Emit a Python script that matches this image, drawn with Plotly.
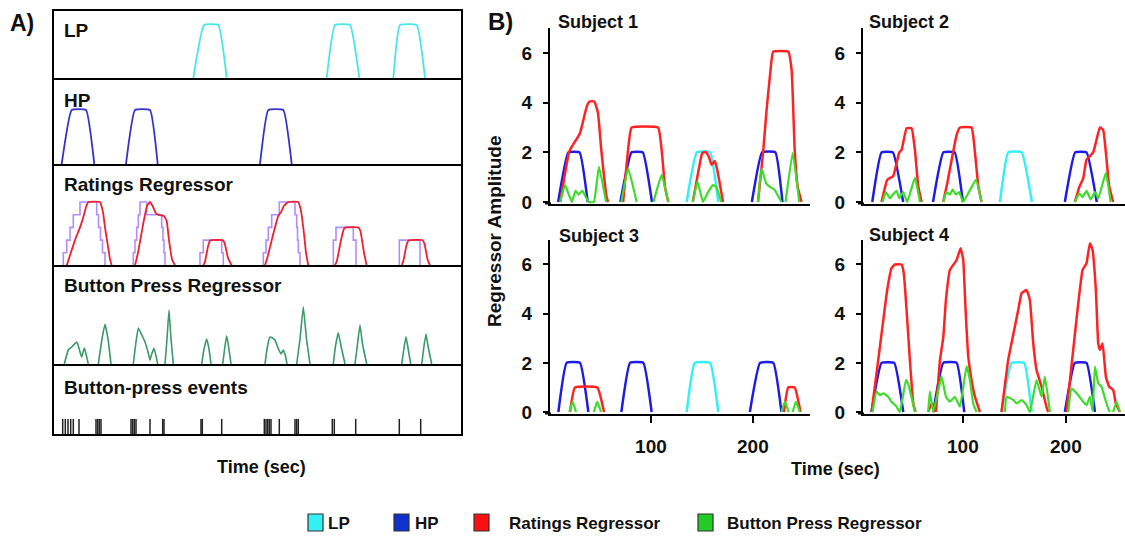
import plotly.graph_objects as go

W, H = 1125, 537
def fx(p): return p / W
def fy(p): return 1 - p / H

# ---------------- Panel A data (time in arbitrary sec units) ----------------
a_lp_t = [140.3, 151, 165.3, 173.7, None, 273.7, 282, 297, 306.3, None, 340.3, 347, 363.7, 372]
a_lp_v = [0, 1, 1, 0, None, 0, 1, 1, 0, None, 0, 1, 1, 0]
a_hp_t = [8.7, 18.7, 33, 41.3, None, 73, 82, 97, 104.7, None, 207, 215.3, 230.3, 238.7]
a_hp_v = [0, 1, 1, 0, None, 0, 1, 1, 0, None, 0, 1, 1, 0]

a_raw_t = [10.3, 10.3, 13.7, 17, 20.3, 27, 43.7, 45.5, 47.5, 49.5, 52, None,
           80.3, 80.3, 82, 83.7, 85.3, 87, 93.7, 108.7, 110, 111, 112, None,
           147, 147, 150.3, 168.7, 170.3, None,
           210.3, 210.3, 213, 215.3, 218.7, 226.3, 242, 243.7, 244.5, 245.3, 247, None,
           280.3, 280.3, 283, 300.3, 303, None,
           346.3, 346.3, 367]
a_raw_v = [0, 1, 2, 3, 4, 5, 4, 3, 2, 1, 0, None,
           0, 1, 2, 3, 4, 5, 4, 3, 2, 1, 0, None,
           0, 1, 2, 1, 0, None,
           0, 1, 2, 3, 4, 5, 4, 3, 2, 1, 0, None,
           0, 2, 3, 2, 0, None,
           0, 2, 0]

a_rat_t = [13.7, 17, 22, 27, 31, 33, 35.3, 47, 50, 52, 54, 57, 58.7, None,
           82, 85, 90, 94, 97, 99.5, 103, 105.3, 111, 113.7, 116, 119, 122, None,
           150.3, 152, 155, 157, 158.5, 169.5, 171.5, 175, 178.7, None,
           212, 215, 220, 225.3, 228, 231, 235.3, 245.3, 248, 251, 253, 255.3, None,
           282, 284, 288, 291, 292.5, 305.3, 307.5, 311, 313.7, None,
           348.7, 350.5, 353.5, 355.3, 357, 369.5, 371.5, 374.5, 377]
a_rat_v = [0, 0.8, 2, 3, 4, 4.6, 5, 5, 4.2, 3, 2, 0.5, 0, None,
           0, 1, 3.2, 4.7, 5, 4.7, 4.1, 4, 3.9, 3.5, 2, 0.5, 0, None,
           0, 0.3, 1.5, 1.95, 2, 2, 1.8, 0.6, 0, None,
           0, 0.8, 2.4, 3.9, 4.2, 4.7, 5, 5, 4.3, 2.5, 1, 0, None,
           0, 0.4, 2, 2.9, 3, 3, 2.7, 1, 0, None,
           0, 0.4, 1.6, 1.95, 2, 2, 1.7, 0.5, 0]

a_btn_t = [11.3, 15.3, 18.7, 23.7, 25.7, 27, 28.7, 31.3, 33, 35.3, None,
           45.3, 49, 52, 55, 58, None,
           80.3, 83, 85.3, 88.3, 92, 95, 97, 98.7, 101, 103, 104.7, None,
           112, 114, 116, 118, 120.3, None,
           148.7, 151, 153.7, 156, 158, None,
           169.7, 172, 173.7, 175.5, 178, None,
           212, 214, 217, 219.5, 222, 225, 228, 230.3, 232.5, 234, None,
           243.7, 247, 250.3, 253.5, 257, None,
           280.3, 282.5, 285.3, 288, 292, None,
           302, 304.5, 307, 309.5, 313.7, None,
           348.7, 351, 353, 355, 357.7, None,
           368.7, 371, 373, 375, 378.7]
a_btn_v = [0, 1.4, 1.7, 2.2, 1.7, 1.2, 0.7, 1.6, 1.0, 0, None,
           0, 2.5, 3.97, 2.5, 0, None,
           0, 2.2, 3.6, 3.0, 2.2, 1.2, 0.4, 1.0, 1.57, 0.8, 0, None,
           0, 2.5, 5.4, 2.5, 0, None,
           0, 1.5, 2.5, 1.5, 0, None,
           0, 1.8, 2.83, 1.8, 0, None,
           0, 1.5, 2.7, 2.6, 2.4, 1.6, 1.0, 1.4, 0.8, 0, None,
           0, 2.5, 5.7, 2.5, 0, None,
           0, 1.8, 3.13, 1.8, 0, None,
           0, 2.0, 3.9, 2.0, 0, None,
           0, 1.6, 2.73, 1.6, 0, None,
           0, 1.8, 3.0, 1.8, 0]

a_events = [9.7, 12.3, 15, 17.7, 20.3, 26, 43, 44.7, 46.3, 48, 78, 79.7, 81.3, 83, 97,
            109.7, 111, 148, 149.3, 168.7, 211.3, 213, 214.7, 216.3, 218, 226.3,
            242, 243.7, 245.3, 279.3, 281.3, 302.7, 346.3, 367.7]

# ---------------- Panel B data (time in sec, amplitude) ----------------
s1_hp_t = [9, 19, 30, 38, None, 70, 81, 92, 101, None, 199, 209, 222, 229]
s1_hp_v = [0, 2, 2, 0, None, 0, 2, 2, 0, None, 0, 2, 2, 0]
s1_lp_t = [135, 145, 158, 166]
s1_lp_v = [0, 2, 2, 0]
s1_rat_t = [11, 19.6, 22, 30.4, 37, 39.7, 44.5, 48, 51.3, 56.5, 58, None,
            72.7, 77.6, 81, 107, 110.5, 113.8, 117, None,
            141, 149.7, 151, 154, 157, 159.5, 162.7, 165, 170.7, None,
            205, 210, 213.4, 217, 219.9, 234.7, 238, 241, 244, 247.7]
s1_rat_v = [0, 2, 2.2, 2.77, 3.84, 4.05, 4.05, 3.6, 2.1, 0.2, 0, None,
            0, 2.1, 3, 3, 2.1, 0.6, 0, None,
            0, 1.9, 2, 2, 1.8, 1.5, 1.65, 1.3, 0, None,
            0, 2, 3.7, 5.2, 6.05, 6.05, 5.3, 2.1, 0.6, 0]
s1_btn_t = [11, 15.7, 22.5, 26, 29, 32.7, 39, 44, 49, 56, None,
            71, 77.6, 86, None, 102.5, 110.5, 117, None,
            141, 145.6, 151, 156, 160.8, 164, 169, None,
            205, 208.4, 213, 217, 221, 228, None, 232, 239, 245.5]
s1_btn_v = [0, 0.68, 0, 0.45, 0.3, 0.45, 0, 0, 1.42, 0, None,
            0, 1.36, 0, None, 0, 1.09, 0, None,
            0, 0.82, 0, 0.4, 0.68, 0.62, 0, None,
            0, 1.36, 0.75, 0.6, 0.5, 0, None, 0, 1.98, 0]

s2_hp_t = [12, 21, 32, 42, None, 71, 81, 92, 100, None, 199, 209, 220, 230]
s2_hp_v = [0, 2, 2, 0, None, 0, 2, 2, 0, None, 0, 2, 2, 0]
s2_lp_t = [136, 144, 157, 167]
s2_lp_v = [0, 2, 2, 0]
s2_rat_t = [21, 26.5, 32.4, 38.2, 40.5, 45.3, 50.2, 53.4, 56.6, 59.9, None,
            80.9, 85, 90, 93.9, 97.1, 108.4, 111.7, 114.9, 118.1, None,
            208.7, 213, 216.8, 220, 226.5, 229.7, 233, 236.2, 238.8, 242, 245.9]
s2_rat_v = [0, 0.89, 1.05, 2.0, 2.1, 2.97, 2.97, 2.1, 0.65, 0, None,
            0, 0.8, 1.9, 2.7, 3.0, 3.0, 2.0, 0.66, 0, None,
            0, 0.6, 0.95, 1.7, 2.0, 2.5, 3.0, 2.9, 2.0, 0.65, 0]
s2_btn_t = [22, 25.2, 29.1, 32, 35.6, 38.2, 42.1, 45.9, 53.4, 58.3, None,
            80.9, 84.1, 87.4, 90, 93.2, 96.4, 100.3, 112.6, 118.1, None,
            208.7, 212.9, 216.2, 220.1, 224, 228.2, 231.4, 238.8, 243.4]
s2_btn_v = [0, 0.4, 0.15, 0.3, 0.45, 0.15, 0.4, 0, 0.97, 0, None,
            0, 0.4, 0.3, 0.5, 0.3, 0.4, 0, 0.89, 0, None,
            0, 0.35, 0.2, 0.45, 0.1, 0.4, 0.15, 1.17, 0]

s3_hp_t = [9.2, 17.3, 30.4, 38.6, None, 71, 79.5, 92.5, 100.7, None, 197, 207, 220, 228]
s3_hp_v = [0, 2, 2, 0, None, 0, 2, 2, 0, None, 0, 2, 2, 0]
s3_lp_t = [135, 143, 158, 166]
s3_lp_v = [0, 2, 2, 0]
s3_rat_t = [20.6, 25.5, 47.4, 54, None, 230.4, 234.6, 241, 246.7]
s3_rat_v = [0, 1, 1, 0, None, 0, 1, 1, 0]
s3_btn_t = [20, 23.2, 26.5, None, 44, 47.4, 51, None, 228, 231.4, 235, None, 239, 242.2, 246]
s3_btn_v = [0, 0.42, 0, None, 0, 0.42, 0, None, 0, 0.42, 0, None, 0, 0.42, 0]

s4_hp_t = [11.3, 21.0, 33.3, 42.1, None, 71.2, 81.0, 93.9, 101.3, None, 199.0, 208.7, 220.0, 228.2]
s4_hp_v = [0, 2, 2, 0, None, 0, 2, 2, 0, None, 0, 2, 2, 0]
s4_lp_t = [137.5, 147.2, 159.5, 166.7]
s4_lp_v = [0, 2, 2, 0]
s4_rat_t = [11.3, 17.8, 22.7, 26.5, 30.7, 34, 40.5, 42.7, 45.3, 48.5, 51.8, 54.0, None,
            66.3, 69.6, 72.8, None,
            73.8, 77.7, 81.0, 83.5, 87.4, 90.6, 93.9, 97.7, 100.3, 102.6, 105.2, 108.4, 111.7, 116.5, None,
            137.5, 144, 150.5, 153.7, 157, 161.8, 165, 168.3, 171.5, 176.4, 181.2, 182.8, None,
            200.6, 207.1, 212, 216.2, 220, 223.3, 225.9, 229.1, 231.4, 233, 235.6, 238.8, 242, 245.9, 248.5, 252.4]
s4_rat_v = [0, 2.12, 3.74, 4.96, 5.85, 6.0, 6.0, 5.6, 4.15, 2.12, 0.35, 0, None,
            0, 0.35, 0, None,
            0, 2.1, 3.06, 4.55, 5.78, 5.98, 6.18, 6.66, 6.2, 4.15, 2.25, 1.3, 0.62, 0, None,
            0, 2.12, 3.48, 4.15, 4.83, 4.96, 4.56, 2.79, 1.71, 1.03, 0.2, 0, None,
            0, 2.53, 4.42, 5.78, 6.05, 6.86, 6.59, 4.96, 2.79, 2.53, 2.79, 1.44, 1.03, 0.9, 0.35, 0]
s4_btn_t = [12.3, 16.2, 19.4, 22.7, 27.5, 30.7, 35.6, 38.8, 44.7, 46.9, 53.4, None,
            66.3, 67.9, 71.2, 79.3, 83.5, 87.4, 92.2, 97.1, 103.6, 106.8, 110, 113.3, None,
            140.8, 142.4, 148.9, 152.1, 157, 161.8, 165, 171.5, 176.4, 179.6, 184.5, None,
            202.2, 205.5, 210.4, 216.8, 220, 223.3, 225.9, 228.2, 231.4, 234.6, 237.9, 241.1, 242.7, None,
            245.9, 249.2, 252.4]
s4_btn_v = [0, 0.83, 0.69, 0.76, 0.62, 0.42, 0.22, 0, 1.3, 1.15, 0, None,
            0, 0.83, 0, 1.44, 0.62, 0.42, 0.62, 0.22, 1.87, 1.3, 0.35, 0, None,
            0, 0.62, 0.49, 0.35, 0.49, 0.28, 0, 1.3, 0.62, 1.44, 0, None,
            0, 0.95, 0.76, 0.42, 0.28, 0.62, 0.05, 1.85, 1.17, 1.03, 0.56, 0.14, 0, None,
            0, 0.42, 0]

subjects = [
    ("Subject 1", s1_lp_t, s1_lp_v, s1_hp_t, s1_hp_v, s1_rat_t, s1_rat_v, s1_btn_t, s1_btn_v),
    ("Subject 2", s2_lp_t, s2_lp_v, s2_hp_t, s2_hp_v, s2_rat_t, s2_rat_v, s2_btn_t, s2_btn_v),
    ("Subject 3", s3_lp_t, s3_lp_v, s3_hp_t, s3_hp_v, s3_rat_t, s3_rat_v, s3_btn_t, s3_btn_v),
    ("Subject 4", s4_lp_t, s4_lp_v, s4_hp_t, s4_hp_v, s4_rat_t, s4_rat_v, s4_btn_t, s4_btn_v),
]
b_xticks = [100, 200]
b_yticks = [0, 2, 4, 6]
legend_labels = ["LP", "HP", "Ratings Regressor", "Button Press Regressor"]

# ---------------- colours ----------------
C_LP, C_HP, C_RAT, C_BTN = "#33f0f5", "#1c1ce6", "#ff2222", "#3ddc2a"
CA_LP, CA_HP, CA_RAT, CA_RAW, CA_BTN = "#48e6e6", "#3434cc", "#ee2030", "#b48cff", "#3a9a68"
FONT = "Liberation Sans, Arial, sans-serif"

fig = go.Figure()

def line(x, y, color, width, xa, ya, shape="spline"):
    ln = dict(color=color, width=width, shape=shape)
    if shape == "spline":
        ln["smoothing"] = 0.35
    fig.add_trace(go.Scatter(x=x, y=y, mode="lines", line=ln,
                             xaxis=xa, yaxis=ya, showlegend=False, hoverinfo="skip", connectgaps=False))

# Panel A traces
line(a_lp_t, a_lp_v, CA_LP, 1.8, "x", "y")
line(a_hp_t, a_hp_v, CA_HP, 1.8, "x2", "y2")
line(a_raw_t, a_raw_v, CA_RAW, 1.6, "x3", "y3", shape="hv")
line(a_rat_t, a_rat_v, CA_RAT, 1.8, "x3", "y3")
line(a_btn_t, a_btn_v, CA_BTN, 1.6, "x4", "y4")
fig.add_trace(go.Scatter(x=a_events, y=[0.1] * len(a_events), mode="markers",
                         marker=dict(symbol="line-ns", size=13, line=dict(width=1.5, color="#222")),
                         xaxis="x5", yaxis="y5", showlegend=False, hoverinfo="skip"))

# Panel B traces
for i, (name, lpt, lpv, hpt, hpv, rt, rv, bt, bv) in enumerate(subjects):
    xa, ya = "x%d" % (6 + i), "y%d" % (6 + i)
    line(hpt, hpv, C_HP, 2.5, xa, ya)
    line(lpt, lpv, C_LP, 2.5, xa, ya)
    line(rt, rv, C_RAT, 2.5, xa, ya)
    line(bt, bv, C_BTN, 2.2, xa, ya)

layout = dict(width=W, height=H, margin=dict(l=0, r=0, t=0, b=0, autoexpand=False),
              paper_bgcolor="white", plot_bgcolor="white", showlegend=False,
              font=dict(family=FONT, color="#111"))

hidden = dict(visible=False, showgrid=False, zeroline=False)
# Panel A axes
a_ydom = [(79, 10, [-0.019, 1.283]), (165, 79, [-0.0185, 1.574]), (266, 165, [-0.039, 7.91]),
          (365, 266, [-0.1, 9.8]), (435, 365, [0, 1])]
for k, (b, t, rng) in enumerate(a_ydom):
    s = "" if k == 0 else str(k + 1)
    layout["xaxis" + s] = dict(hidden, domain=[fx(53), fx(462)], range=[0, 409], anchor="y" + s)
    layout["yaxis" + s] = dict(hidden, domain=[fy(b), fy(t)], range=rng, anchor="x" + s)

# Panel B axes
b_pos = [((550, 810), (1, 256), (203.5, 28.2)), ((863, 1124.6), (3, 257), (203.5, 28.2)),
         ((550, 810), (1, 256), (413.5, 239.9)), ((863, 1124.6), (3, 257), (413.5, 239.9))]
tickfont = dict(family=FONT, size=19, color="#111", weight="bold")
for i, ((x0, x1), xr, (yb, yt)) in enumerate(b_pos):
    s = str(6 + i)
    bottom = i >= 2
    layout["xaxis" + s] = dict(domain=[fx(x0), fx(x1)], range=list(xr), anchor="y" + s,
                               showline=True, linecolor="black", linewidth=2, showgrid=False, zeroline=False,
                               tickvals=b_xticks if bottom else [], ticks="outside" if bottom else "",
                               ticklen=7, tickwidth=2, tickcolor="black",
                               showticklabels=bottom, tickfont=tickfont, ticklabelstandoff=8)
    layout["yaxis" + s] = dict(domain=[fy(yb), fy(yt)], range=[-0.06, 7], anchor="x" + s,
                               showline=True, linecolor="black", linewidth=2, showgrid=False, zeroline=False,
                               tickvals=b_yticks, ticks="outside", ticklen=5, tickwidth=2, tickcolor="black",
                               tickfont=tickfont, ticklabelstandoff=7)

shapes = [dict(type="rect", xref="paper", yref="paper", x0=fx(53), x1=fx(462), y0=fy(435), y1=fy(10),
               line=dict(color="black", width=2))]
for py in [79, 165, 266, 365]:
    shapes.append(dict(type="line", xref="paper", yref="paper", x0=fx(53), x1=fx(462), y0=fy(py), y1=fy(py),
                       line=dict(color="black", width=2)))
# x-axis lines of panel B run slightly left of the y-axis
for (x0, yb) in [(545, 202), (858, 202), (545, 412), (858, 412)]:
    shapes.append(dict(type="line", xref="paper", yref="paper", x0=fx(x0), x1=fx(x0 + 6), y0=fy(yb + 1.5),
                       y1=fy(yb + 1.5), line=dict(color="black", width=2)))

ann = []
def text(s, px, py, size, xanchor="left", bold=True, angle=0):
    ann.append(dict(text=s, x=fx(px), y=fy(py), xref="paper", yref="paper", xanchor=xanchor, yanchor="middle",
                    showarrow=False, textangle=angle,
                    font=dict(family=FONT, size=size, color="#111", weight="bold" if bold else "normal")))

text("A)", 8, 23, 23)
text("B)", 486, 21, 24)
text("LP", 62, 30, 19)
text("HP", 62, 100, 19)
text("Ratings Regressor", 62, 184, 19)
text("Button Press Regressor", 62, 285, 19)
text("Button-press events", 62, 387, 19)
text("Time (sec)", 261, 467, 18, xanchor="center")
text("Time (sec)", 835, 469, 18, xanchor="center")
text("Regressor Amplitude", 494, 232, 19, xanchor="center", angle=-90)
sub_pos = [(556, 22), (867, 22), (557, 236), (867, 235)]
for (name, *_), (px, py) in zip(subjects, sub_pos):
    text(name, px, py, 18)

# manual legend
leg_colors = [C_LP, "#1030d0", "#ff1010", "#22cc22"]
leg_box_x = [308, 394, 474, 698]
leg_text_x = [326, 413, 507, 725]
for lab, col, bx, tx in zip(legend_labels, leg_colors, leg_box_x, leg_text_x):
    shapes.append(dict(type="rect", xref="paper", yref="paper", x0=fx(bx), x1=fx(bx + 15),
                       y0=fy(531), y1=fy(514), fillcolor=col, line=dict(color="#333", width=1.2)))
    text(lab, tx, 523, 17)

layout["shapes"] = shapes
layout["annotations"] = ann
fig.update_layout(**layout)
fig.write_html("out.html", config={"displayModeBar": False, "staticPlot": True},
               post_script="document.body.style.margin='0';document.body.style.overflow='hidden';")
